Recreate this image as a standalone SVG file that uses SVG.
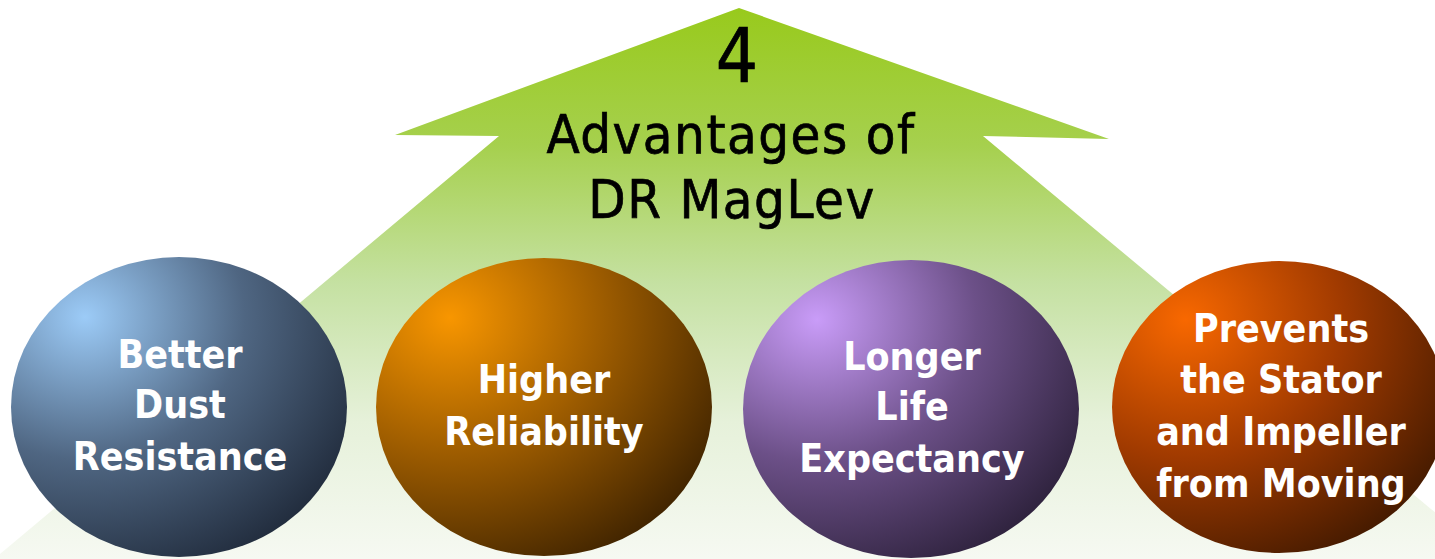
<svg xmlns="http://www.w3.org/2000/svg" width="1435" height="559" viewBox="0 0 1435 559">
<defs>
<linearGradient id="gArrow" x1="0" y1="8" x2="0" y2="559" gradientUnits="userSpaceOnUse">
<stop offset="0" stop-color="#98ca1c"/>
<stop offset="0.25" stop-color="#a6d04e"/>
<stop offset="0.5" stop-color="#c5e1a2"/>
<stop offset="0.75" stop-color="#e6f1da"/>
<stop offset="1" stop-color="#f6f9f2"/>
</linearGradient>
<radialGradient id="gBlue" cx="0.22" cy="0.2" r="0.95" fx="0.22" fy="0.2">
<stop offset="0" stop-color="#9ccbf7"/>
<stop offset="0.5" stop-color="#4f6682"/>
<stop offset="1" stop-color="#1e2838"/>
</radialGradient>
<radialGradient id="gOrange" cx="0.22" cy="0.2" r="0.95" fx="0.22" fy="0.2">
<stop offset="0" stop-color="#f89600"/>
<stop offset="0.5" stop-color="#9a5a00"/>
<stop offset="1" stop-color="#3a2000"/>
</radialGradient>
<radialGradient id="gPurple" cx="0.22" cy="0.2" r="0.95" fx="0.22" fy="0.2">
<stop offset="0" stop-color="#c99cf8"/>
<stop offset="0.5" stop-color="#6c5088"/>
<stop offset="1" stop-color="#2a1f38"/>
</radialGradient>
<radialGradient id="gRed" cx="0.22" cy="0.2" r="0.95" fx="0.22" fy="0.2">
<stop offset="0" stop-color="#f86800"/>
<stop offset="0.5" stop-color="#a03a00"/>
<stop offset="1" stop-color="#3e1800"/>
</radialGradient>
</defs>
<style>
.title{font-family:"DejaVu Sans Condensed","DejaVu Sans",sans-serif;fill:#000;stroke:#000;stroke-width:0.7px;text-anchor:middle}
.lbl{font-family:"DejaVu Sans Condensed","DejaVu Sans",sans-serif;font-weight:bold;font-size:39px;fill:#fff;text-anchor:middle}
</style>
<g id="arrow">
<polygon points="739,8 1109,139 983,136 1491,559 -6,559 499,136 395,135" fill="url(#gArrow)"/>
<text class="title" x="737" y="82" font-size="74">4</text>
<text class="title" x="731" y="153" font-size="54" letter-spacing="1.5">Advantages of</text>
<text class="title" x="732" y="218" font-size="54" letter-spacing="1.5">DR MagLev</text>
</g>
<g id="connectors"></g>
<g id="node1">
<ellipse cx="179" cy="407" rx="168" ry="150" fill="url(#gBlue)"/>
<text class="lbl" x="180" y="368">Better</text>
<text class="lbl" x="180" y="418">Dust</text>
<text class="lbl" x="180" y="470">Resistance</text>
</g>
<g id="node2">
<ellipse cx="544" cy="407" rx="168" ry="149" fill="url(#gOrange)"/>
<text class="lbl" x="544" y="393">Higher</text>
<text class="lbl" x="544" y="445">Reliability</text>
</g>
<g id="node3">
<ellipse cx="911" cy="409" rx="168" ry="149" fill="url(#gPurple)"/>
<text class="lbl" x="912" y="370">Longer</text>
<text class="lbl" x="912" y="420">Life</text>
<text class="lbl" x="912" y="472">Expectancy</text>
</g>
<g id="node4">
<ellipse cx="1279" cy="407" rx="167" ry="146" fill="url(#gRed)"/>
<text class="lbl" x="1281" y="342">Prevents</text>
<text class="lbl" x="1281" y="393">the Stator</text>
<text class="lbl" x="1281" y="445">and Impeller</text>
<text class="lbl" x="1281" y="497">from Moving</text>
</g>
</svg>
